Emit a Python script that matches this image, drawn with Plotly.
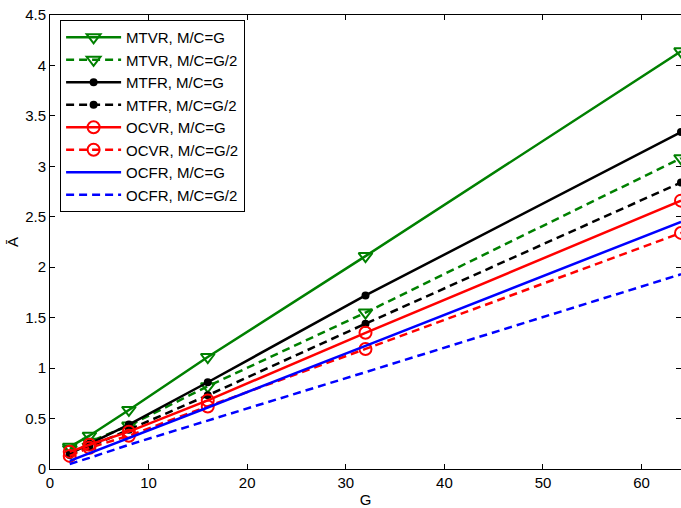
import plotly.graph_objects as go

G = [2, 4, 8, 16, 32, 64]
mtvr_g = [0.22, 0.33, 0.585, 1.11, 2.11, 4.14]
mtvr_g2 = [0.20, 0.27, 0.43, 0.82, 1.55, 3.08]
mtfr_g = [0.15, 0.25, 0.44, 0.86, 1.72, 3.34]
mtfr_g2 = [0.14, 0.22, 0.39, 0.73, 1.44, 2.84]
ocvr_g = [0.17, 0.24, 0.37, 0.68, 1.35, 2.66]
ocvr_g2 = [0.13, 0.21, 0.33, 0.62, 1.19, 2.34]
ocfr_g = [0.08, 0.155, 0.31, 0.61, 1.22, 2.45]
ocfr_g2 = [0.05, 0.11, 0.24, 0.48, 0.96, 1.93]

series = [
    ("MTVR, M/C=G", mtvr_g, "#008000", "solid", "triangle-down-open", 12, 2),
    ("MTVR, M/C=G/2", mtvr_g2, "#008000", "8px,5px", "triangle-down-open", 12, 2),
    ("MTFR, M/C=G", mtfr_g, "#000000", "solid", "circle", 8, 0),
    ("MTFR, M/C=G/2", mtfr_g2, "#000000", "8px,5px", "circle", 8, 0),
    ("OCVR, M/C=G", ocvr_g, "#FF0000", "solid", "circle-open", 12, 2),
    ("OCVR, M/C=G/2", ocvr_g2, "#FF0000", "8px,5px", "circle-open", 12, 2),
    ("OCFR, M/C=G", ocfr_g, "#0000FF", "solid", None, 0, 0),
    ("OCFR, M/C=G/2", ocfr_g2, "#0000FF", "8px,5px", None, 0, 0),
]

fig = go.Figure()
for name, ys, col, dash, sym, size, mlw in series:
    if sym is None:
        fig.add_trace(go.Scatter(x=G, y=ys, name=name, mode="lines",
                                 line=dict(color=col, width=2.5, dash=dash)))
    else:
        fig.add_trace(go.Scatter(x=G, y=ys, name=name, mode="lines+markers",
                                 line=dict(color=col, width=2.5, dash=dash),
                                 marker=dict(symbol=sym, size=size, color=col,
                                             line=dict(color=col, width=mlw))))

fam = "Liberation Sans, Arial, sans-serif"
font = dict(family=fam, size=15, color="#000000")
axis_common = dict(showline=True, linecolor="#000000", linewidth=1, mirror="ticks",
                   ticks="inside", ticklen=5, tickcolor="#000000", showgrid=False,
                   zeroline=False, tickfont=font, automargin=False)

fig.update_layout(
    width=681, height=508,
    margin=dict(l=50, r=0, t=15, b=39),
    paper_bgcolor="white", plot_bgcolor="white",
    font=font,
    xaxis=dict(range=[0, 64], tickvals=[0, 10, 20, 30, 40, 50, 60],
               title=dict(text="G", font=dict(family=fam, size=15, color="#000000"), standoff=6),
               **axis_common),
    yaxis=dict(range=[0, 4.5], tickvals=[0, 0.5, 1, 1.5, 2, 2.5, 3, 3.5, 4, 4.5],
               ticktext=["0", "0.5", "1", "1.5", "2", "2.5", "3", "3.5", "4", "4.5"],
               title=dict(text="Ā", font=dict(family=fam, size=15, color="#000000"), standoff=2),
               **axis_common),
    legend=dict(x=0.016, y=0.989, xanchor="left", yanchor="top",
                bgcolor="white", bordercolor="#000000", borderwidth=1,
                font=dict(family=fam, size=15, color="#000000"),
                itemwidth=55, tracegroupgap=0),
    showlegend=True,
)

fig.write_html("out.html", config={"displayModeBar": False},
               post_script="document.body.style.margin='0';")
